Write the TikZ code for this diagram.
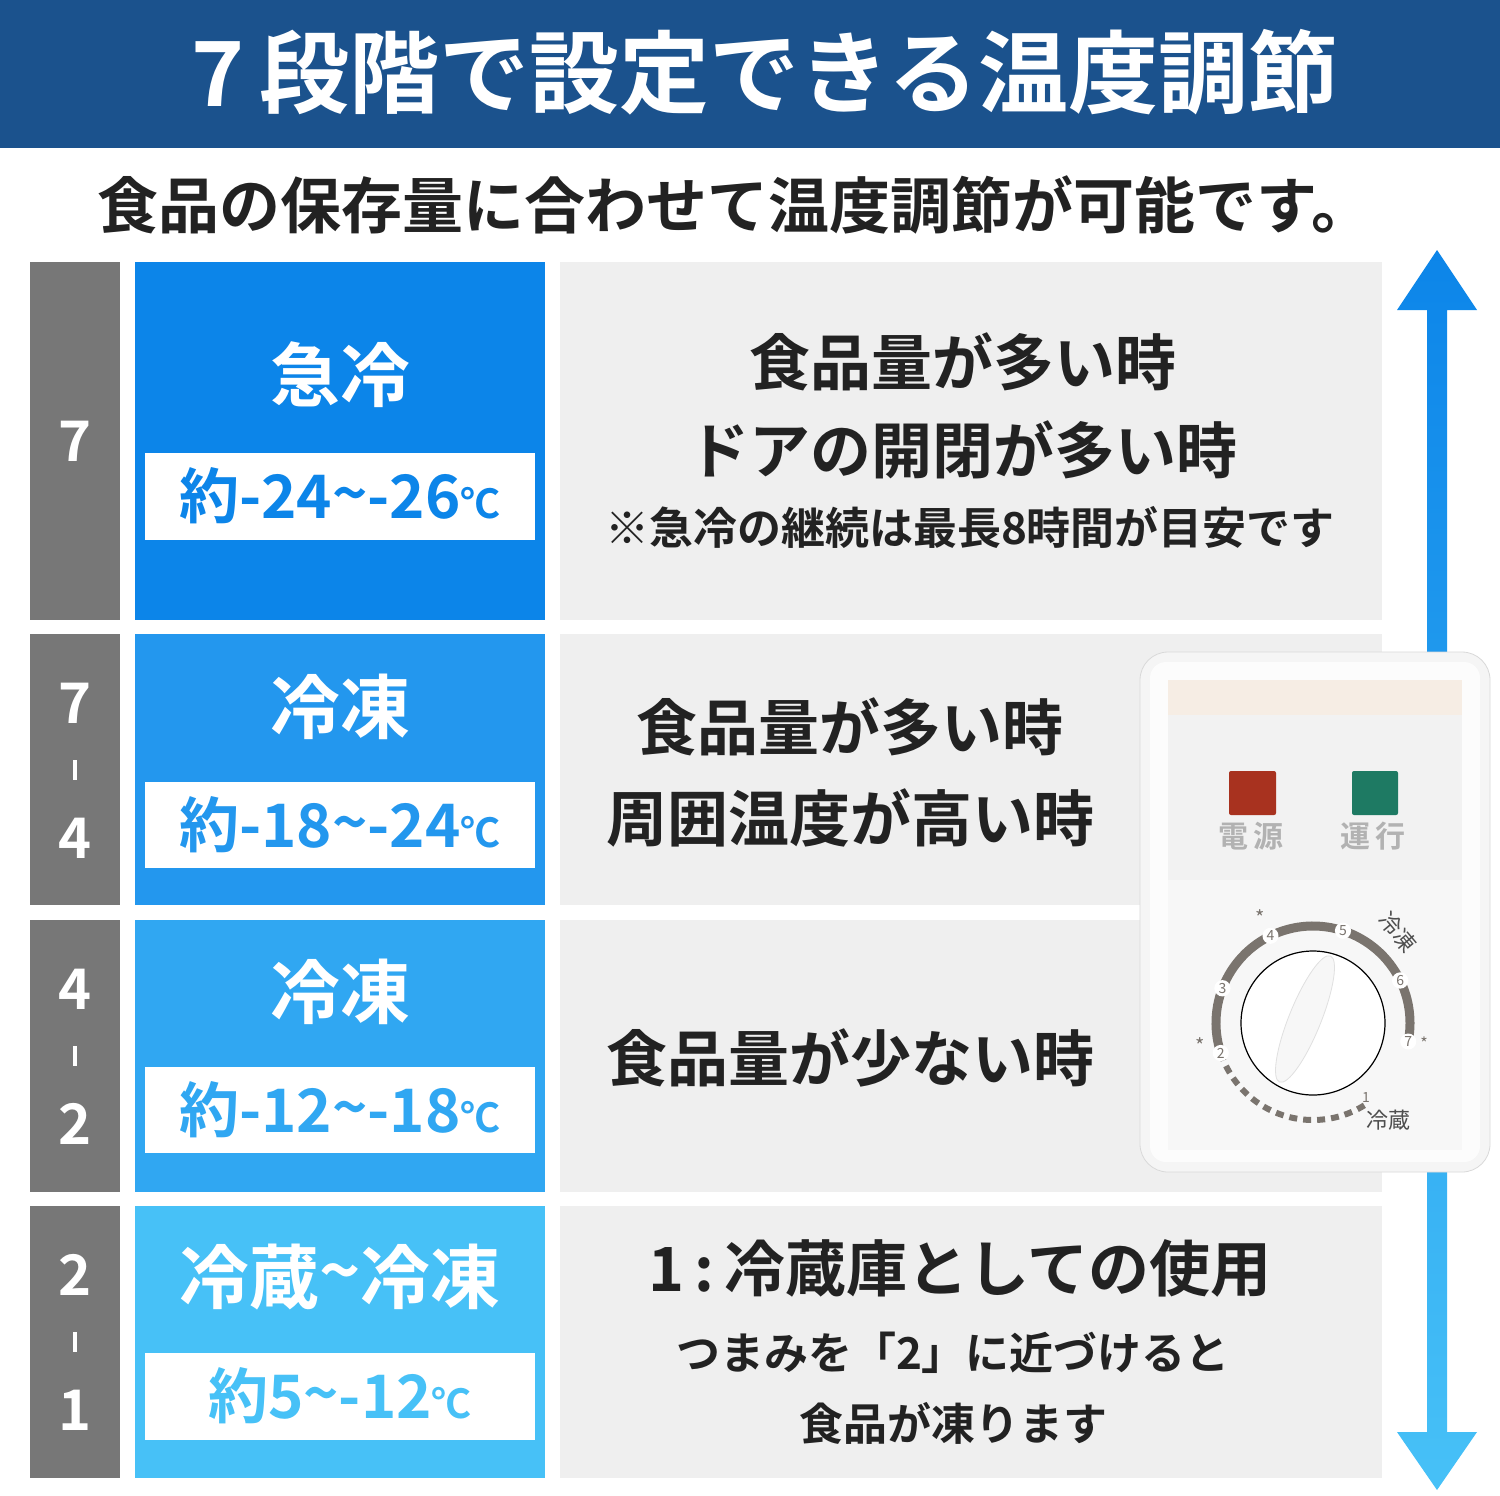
\documentclass[tikz,border=0pt]{standalone}
\usepackage{fontspec}
\setmainfont{Noto Sans CJK JP}[BoldFont={* Bold}]
\usetikzlibrary{shapes.geometric,calc}
\definecolor{hdr}{HTML}{1B528D}
\definecolor{gcol}{HTML}{777777}
\definecolor{pnl}{HTML}{EFEFEF}
\definecolor{bA}{HTML}{0C85E9}
\definecolor{bB}{HTML}{2397EE}
\definecolor{bC}{HTML}{30A7F2}
\definecolor{bD}{HTML}{47C1F7}
\definecolor{txt}{HTML}{222222}
\definecolor{dial}{HTML}{7A746E}
\definecolor{lred}{HTML}{A8321F}
\definecolor{lgrn}{HTML}{1E7A63}
\tikzset{
 fsz/.style={font=\fontsize{#1}{#1}\selectfont\bfseries},
 numtxt/.style={text=white,fsz=28},
 ttl/.style={text=white,fsz=35},
 tmp/.style={fsz=30},
 big/.style={text=txt,fsz=30.5},
 small/.style={text=txt,fsz=22},
}
\newcommand{\degc}{{\fontsize{20}{20}\selectfont ℃}}
\begin{document}
\begin{tikzpicture}[x=0.5pt,y=-0.5pt]
\useasboundingbox (0,0) rectangle (1500,1495);
\fill[white] (0,0) rectangle (1500,1495);
% header
\fill[hdr] (0,0) rectangle (1500,148);
\node[text=white,fsz=45] (title) at (765,72) {7\,段階で設定できる温度調節};
\node[text=txt,fsz=30.5] (sub) at (735,205) {食品の保存量に合わせて温度調節が可能です。};
% rows
\foreach \ya/\yb/\c in {262/620/bA,634/905/bB,920/1192/bC,1206/1478/bD}{
 \fill[gcol] (30,\ya) rectangle (120,\yb);
 \fill[\c] (135,\ya) rectangle (545,\yb);
 \fill[pnl] (560,\ya) rectangle (1382,\yb);
}
% inner white boxes
\foreach \ya/\yb in {453/540,782/868,1067/1153,1353/1440}{
 \fill[white] (145,\ya) rectangle (535,\yb);
}
% gray numbers
\node[numtxt] (n1) at (75,441) {7};
\node[numtxt] (n2a) at (75,703) {7};
\node[numtxt] (n2c) at (75,838) {4};
\node[numtxt] (n3a) at (75,989) {4};
\node[numtxt] (n3c) at (75,1124) {2};
\node[numtxt] (n4a) at (75,1275) {2};
\node[numtxt] (n4c) at (75,1410) {1};
\foreach \y in {770,1056,1342}{\fill[white] (73,\y-10) rectangle (77,\y+10);}
% titles
\node[ttl] (t1) at (340,375) {急冷};
\node[ttl] (t2) at (340,707) {冷凍};
\node[ttl] (t3) at (340,992) {冷凍};
\node[ttl] (t4) at (340,1277) {冷蔵\raisebox{0.1em}{\textasciitilde}冷凍};
\node[tmp,text=bA] (c1) at (340,496) {約-24\raisebox{0.05em}{\textasciitilde}-26\degc};
\node[tmp,text=bB] (c2) at (340,825) {約-18\raisebox{0.05em}{\textasciitilde}-24\degc};
\node[tmp,text=bC] (c3) at (340,1110) {約-12\raisebox{0.05em}{\textasciitilde}-18\degc};
\node[tmp,text=bD] (c4) at (340,1396) {約5\raisebox{0.05em}{\textasciitilde}-12\degc};
% right texts
\node[big] (r1a) at (963,362) {食品量が多い時};
\node[big] (r1b) at (963,450) {ドアの開閉が多い時};
\node[small] (r1c) at (970,527) {※急冷の継続は最長8時間が目安です};
\node[big] (r2a) at (850,727) {食品量が多い時};
\node[big] (r2b) at (850,818) {周囲温度が高い時};
\node[big] (r3a) at (850,1058) {食品量が少ない時};
\node[big] (r4a) at (960,1268) {1\,:\,冷蔵庫としての使用};
\node[small] (r4b) at (953,1353) {つまみを「2」に近づけると};
\node[small] (r4c) at (953,1423) {食品が凍ります};
% arrow
\shade[top color=bA,bottom color=bD] (1437,250) -- (1477,310) -- (1447,310) -- (1447,1432) -- (1477,1432) -- (1437,1490) -- (1397,1432) -- (1427,1432) -- (1427,310) -- (1397,310) -- cycle;
% control panel
\fill[white!96!black,rounded corners=14pt] (1140,652) rectangle (1490,1172);
\draw[white!85!black,rounded corners=14pt] (1140,652) rectangle (1490,1172);
\fill[white!99!black,rounded corners=8pt] (1150,662) rectangle (1480,1162);
\fill[white!86!brown] (1168,680) rectangle (1462,715);
\fill[white!95!black] (1168,715) rectangle (1462,880);
\fill[white!97!black] (1168,880) rectangle (1462,1150);
\fill[lred,rounded corners=1pt] (1229,771) rectangle (1276,815);
\fill[lgrn,rounded corners=1pt] (1352,771) rectangle (1398,815);
\node[text=white!70!black,fsz=15] (pw) at (1251,836) {電\,源};
\node[text=white!70!black,fsz=15] (rn) at (1373,836) {運\,行};
\coordinate (dc) at (1313,1023);
\draw[dial,line width=4.5pt] ($(dc)+(-198:97)$) arc[start angle=-198,end angle=11,radius=97];
\draw[dial,line width=3pt,dash pattern=on 4pt off 3pt] ($(dc)+(-198:97)$) arc[start angle=-198,end angle=-302,radius=97];
\foreach \a/\t in {116/4,72/5,26/6,-11/7,159/3,198/2}{
 \node[circle,fill=white,inner sep=0.6pt,text=dial,font=\fontsize{7}{7}\selectfont] at ($(dc)+(-\a:97)$) {\t};
}
\node[text=dial,font=\fontsize{7}{7}\selectfont,inner sep=0pt] (d1) at (1366,1097) {1};
\node[text=dial,font=\fontsize{10}{10}\selectfont] (s4) at (1260,918) {*};
\node[text=dial,font=\fontsize{10}{10}\selectfont] (s2) at (1200,1046) {*};
\node[text=dial,font=\fontsize{8}{8}\selectfont] (s7) at (1424,1043) {*};
\node[text=txt!80,font=\fontsize{11}{11}\selectfont,rotate=-50,inner sep=0pt] (fz) at (1398,932) {冷凍};
\node[text=txt!80,font=\fontsize{11}{11}\selectfont,inner sep=0pt] (rz) at (1388,1120) {冷蔵};
\fill[white] (dc) circle (72);
\draw[black,line width=0.6pt] (dc) circle (72);
\draw[white!88!black,fill=white!97!black] (dc) ++(-8,-4) ellipse[x radius=16,y radius=68,rotate=-22];
\end{tikzpicture}
\end{document}
